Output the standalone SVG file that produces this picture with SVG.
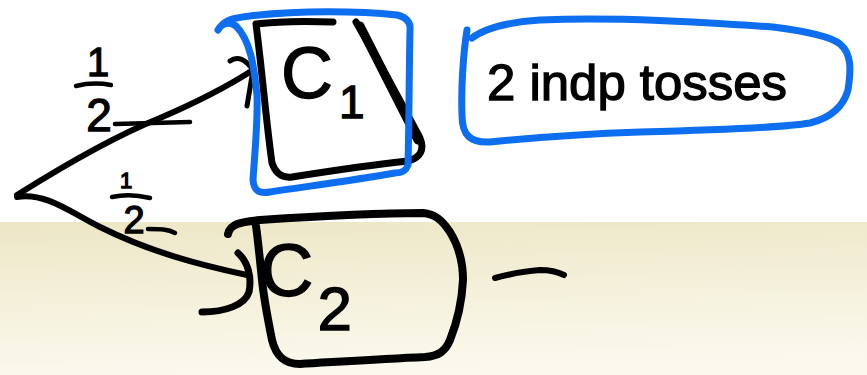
<svg xmlns="http://www.w3.org/2000/svg" width="867" height="375" viewBox="0 0 867 375">
  <defs>
    <linearGradient id="beige" x1="0" y1="0" x2="0.15" y2="1">
      <stop offset="0" stop-color="#EDE7C6"/>
      <stop offset="1" stop-color="#FBF9EE"/>
    </linearGradient>
    <style>
      .ink { fill: none; stroke: #000; stroke-linecap: round; stroke-linejoin: round; }
      .blue { fill: none; stroke: #0D6EF0; stroke-width: 7; stroke-linecap: round; stroke-linejoin: round; }
      .lbl { font-family: "Liberation Sans", Arial, sans-serif; fill: #000; stroke: #000; stroke-width: 1.3; }
    </style>
  </defs>
  <rect x="0" y="0" width="867" height="375" fill="#FFFFFF"/>
  <rect x="0" y="222" width="867" height="153" fill="url(#beige)"/>

  <g id="connectors">
    <!-- upper edge to C1 -->
    <path class="ink" stroke-width="6" d="M17,195 C60,168 110,138 160,118 C195,103 225,88 253,70"/>
    <path class="ink" stroke-width="5" d="M230,61 C238,55 246,60 253,70 L247,106"/>
    <!-- lower edge to C2 -->
    <path class="ink" stroke-width="6" d="M17,197 C45,192 70,212 100,227 C150,252 200,265 247,275"/>
    <path class="ink" stroke-width="7" d="M238,253 C248,262 252,277 249,292 C245,305 225,312 202,312"/>
  </g>

  <g id="label-upper">
    <text class="lbl" x="98" y="76" font-size="40" text-anchor="middle">1</text>
    <path class="ink" stroke-width="4.5" d="M76,86 C88,83 100,83 111,85"/>
    <text class="lbl" x="99" y="131" font-size="46" text-anchor="middle">2</text>
    <path class="ink" stroke-width="4.5" d="M115,124 L190,122"/>
  </g>

  <g id="label-lower">
    <text class="lbl" x="126" y="188" font-size="22" text-anchor="middle">1</text>
    <path class="ink" stroke-width="4.5" d="M112,197 C125,194 138,195 150,198"/>
    <text class="lbl" x="134" y="233" font-size="38" text-anchor="middle">2</text>
    <path class="ink" stroke-width="4.5" d="M148,229 C160,229 168,229 175,233"/>
  </g>

  <g id="node-c1">
    <path class="ink" stroke-width="7" d="M333,22 C305,21 280,21 256,24 C262,70 266,120 272,163 C276,175 284,178 292,177 C330,171 370,165 408,161 C420,158 425,150 420,138 C400,100 378,60 356,22"/>
    <path class="ink" stroke-width="9" d="M360,26 C380,65 400,105 418,140"/>
    <text class="lbl" x="281" y="98" font-size="72">C<tspan font-size="46" dx="6" dy="20">1</tspan></text>
    <path class="blue" d="M218,30 C224,20 232,18 250,16 C300,10 360,11 397,15 C406,17 411,22 410,30 C409,80 409,130 408,165 C406,171 402,173 395,173 C355,180 310,186 270,192 C258,194 254,190 253,180 C255,150 258,120 257,95 C254,65 250,40 236,26 C230,22 222,22 218,30"/>
  </g>

  <g id="node-note">
    <path class="blue" d="M472,38 C485,28 510,22 540,20 C620,17 700,22 773,27 C805,31 830,36 840,44 C852,54 851,70 848,90 C843,108 830,118 810,123 C780,128 720,130 640,132 C580,134 530,138 490,142 C470,143 462,135 462,115 C461,90 463,55 467,30"/>
    <text class="lbl" x="487" y="100" font-size="50" textLength="300" lengthAdjust="spacingAndGlyphs">2 indp tosses</text>
  </g>

  <g id="node-c2">
    <path class="ink" stroke-width="8" d="M228,234 C230,224 240,222 260,220 C320,216 380,213 423,213 C435,214 442,220 450,232 C458,245 463,260 463,280 C462,300 458,320 450,340 C445,352 438,356 425,357 C380,359 335,362 300,364 C284,364 276,356 272,340 C268,320 264,300 262,280 C260,260 258,240 256,226"/>
    <text class="lbl" x="260" y="296" font-size="74">C<tspan font-size="62" dx="4" dy="34">2</tspan></text>
    <path class="ink" stroke-width="6" d="M495,278 C510,274 525,271 540,270 C550,270 558,272 564,275"/>
  </g>
</svg>
